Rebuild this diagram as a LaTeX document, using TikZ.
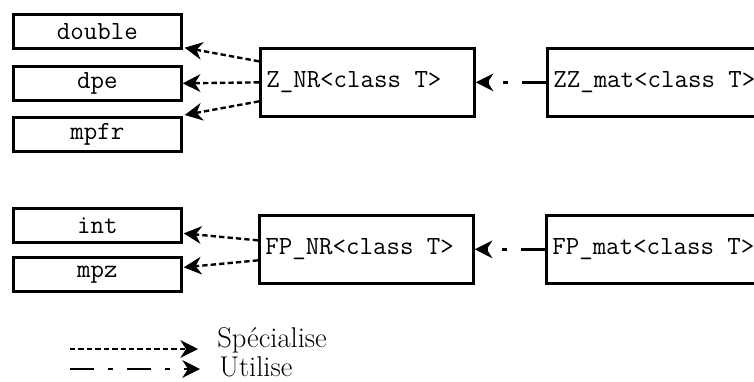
\documentclass[tikz,border=0pt]{standalone}
\usetikzlibrary{arrows.meta,calc}
\newcommand{\lbx}[1]{\makebox[5.05cm][l]{#1}}
\begin{document}
\begin{tikzpicture}[x=0.025cm,y=-0.025cm,
  box/.style={draw,line width=1.9pt,rectangle,inner sep=0pt,font=\ttfamily\fontsize{18.6}{22}\selectfont},
  small/.style={box,minimum width=4.2cm,minimum height=0.85cm,anchor=north west},
  big/.style={box,minimum height=1.7cm,minimum width=5.35cm,inner xsep=0.15cm,anchor=north west},
  spec/.style={line width=1.7pt,dash pattern=on 3.8pt off 2.2pt,-{Stealth[length=4.4mm,width=4.4mm,inset=1.4mm]}},
  uses/.style={line width=1.7pt,dash pattern=on 17pt off 10pt on 3.5pt off 10pt,-{Stealth[length=4.4mm,width=4.4mm,inset=1.4mm]}},
  legend/.style={font=\fontsize{20.3}{23}\selectfont,anchor=west,inner sep=0pt}]
\useasboundingbox (0,0) rectangle (754,381);

\node[small] (double) at (12,13) {double};
\node[small] (dpe) at (12,65) {dpe};
\node[small] (mpfr) at (12,116) {mpfr};
\node[big] (znr) at (259,47) {\lbx{Z\_NR<class T>}};
\node[big] (zzmat) at (546,47) {\lbx{ZZ\_mat<class T>}};

\node[small] (int) at (12,207) {int};
\node[small] (mpz) at (12,256) {mpz};
\node[big] (fpnr) at (258,214) {\lbx{FP\_NR<class T>}};
\node[big] (fpmat) at (545,214) {\lbx{FP\_mat<class T>}};

\draw[spec] ($(znr.west)+(0,-21)$) -- ($(double.south east)+(2,-2)$);
\draw[spec] (znr.west) -- (dpe.east);
\draw[spec] ($(znr.west)+(0,19)$) -- ($(mpfr.north east)+(2,-1)$);
\draw[uses] (zzmat.west) -- (znr.east);

\draw[spec] ($(fpnr.west)+(0,-9)$) -- ($(int.east)+(1,8)$);
\draw[spec] ($(fpnr.west)+(0,11)$) -- ($(mpz.east)+(1,-7)$);
\draw[uses] (fpmat.west) -- (fpnr.east);

\coordinate (l1s) at (70,349);
\coordinate (l1e) at (198,349);
\coordinate (l2s) at (70,369);
\coordinate (l2e) at (200,369);
\draw[spec] (l1s) -- (l1e);
\draw[uses] (l2s) -- (l2e);
\node[legend] (lspec) at (217,340) {Spécialise};
\node[legend] (luse) at (219,367) {Utilise};
\end{tikzpicture}
\end{document}
